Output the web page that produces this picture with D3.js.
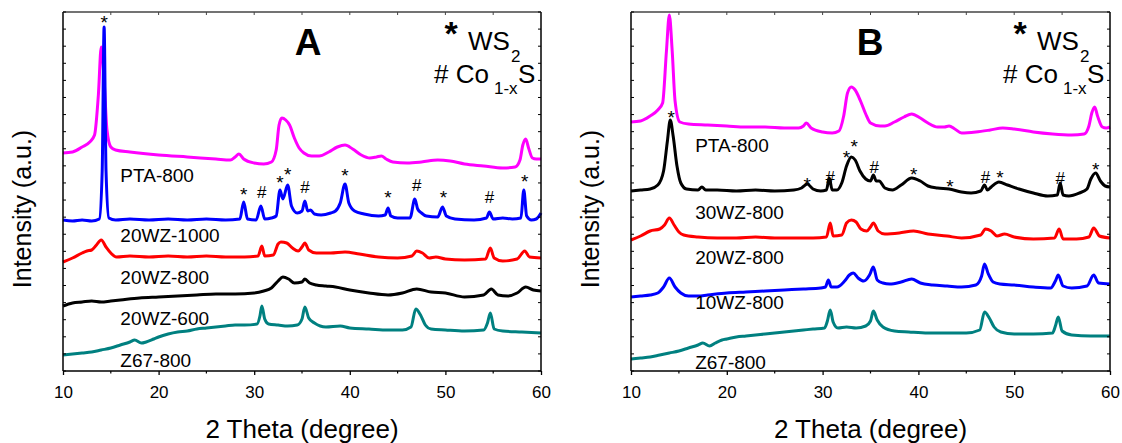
<!DOCTYPE html>
<html>
<head>
<meta charset="utf-8">
<script src="https://d3js.org/d3.v7.min.js"></script>
<style>
  body { margin: 0; background: #fff; }
  svg text { font-family: "Liberation Sans", Arial, sans-serif; fill: #000; }
</style>
</head>
<body>
<svg id="chart" width="1122" height="443"></svg>
<script>
// ---- data: [2theta, intensity (a.u.)] ----
const xTicks = [10, 20, 30, 40, 50, 60];
const xMinor = [15, 25, 35, 45, 55];

const namesA = ["PTA-800", "20WZ-1000", "20WZ-800", "20WZ-600", "Z67-800"];
const namesB = ["PTA-800", "30WZ-800", "20WZ-800", "10WZ-800", "Z67-800"];
const colorsA = ["#ff00ff", "#0000ff", "#ff0000", "#000000", "#008080"];
const colorsB = ["#ff00ff", "#000000", "#ff0000", "#0000ff", "#008080"];
const labelAtA = [196, 136, 94, 53, 11];
const labelAtB = [226, 159, 114, 69, 9];

const ptaA = [[10,218],[11,219],[12,224],[12.8,229],[13.3,236],[13.7,276],[14.0,324],[14.3,291],[14.6,241],[15.0,224],[15.5,221],[17,219],[20,216],[23,214],[26,212],[27.5,211],[28.0,214],[28.4,217],[28.9,212],[30,208],[31,207],[31.8,209],[32.3,221],[32.6,246],[32.9,253],[33.3,251],[33.7,246],[34.2,233],[34.7,223],[35.2,218],[36.0,215],[36.8,215],[37.8,219],[38.7,224],[39.5,226],[40.3,222],[41.2,216],[42.1,213],[42.8,214],[43.3,215],[43.8,212],[44.5,209],[46,208],[47.5,209],[49.2,211],[50.5,210],[52,207],[54,205],[56,203],[57.3,204],[57.8,211],[58.1,226],[58.4,232],[58.7,223],[59.1,213],[59.5,212],[60,212]];
const wz1000A = [[10,151],[11,150],[12,151],[13,150],[13.8,152],[14.1,200],[14.3,344],[14.5,200],[14.8,153],[15.5,151],[17,152],[19,151],[21,152],[23,151],[25,152],[27,151],[28.5,152],[28.9,169],[29.3,152],[30.2,151],[30.7,165],[31.1,152],[31.8,153],[32.3,155],[32.7,181],[33.0,172],[33.5,186],[33.9,165],[34.5,158],[35.0,160],[35.3,170],[35.6,160],[35.9,161],[36.3,157],[37,156],[38,158],[38.5,160],[39.0,168],[39.5,187],[39.9,168],[40.5,160],[41.5,157],[43,155],[43.7,156],[44.0,163],[44.3,155],[45,153],[46.3,153],[46.8,172],[47.1,162],[47.5,158],[48,155],[49.2,154],[49.7,164],[50.1,155],[51,152],[53,151],[54.3,153],[54.6,159],[55,152],[56,153],[57,152],[57.9,153],[58.2,181],[58.5,155],[59,151],[59.5,152],[60,158]];
const wz800A = [[10,109],[11,113],[12,118],[12.5,120],[13,121],[13.5,126],[14.0,131],[14.5,124],[15,118],[15.6,114],[17,115],[19,114],[21,115],[23,114],[25,115],[27,114],[29,114],[30.4,115],[30.8,125],[31.1,115],[32,116],[32.5,127],[32.8,129],[33.4,128],[34.0,123],[34.6,120],[35.0,124],[35.3,128],[35.7,121],[36.5,118],[38,118],[39.5,119],[41,117],[43,114],[45,113],[46.5,115],[47.0,120],[47.6,118],[48.3,113],[49,114],[50,112],[52,111],[54.2,112],[54.7,123],[55.1,113],[56,110],[57.5,112],[58.3,120],[58.8,114],[60,113]];
const wz600A = [[10,65],[11,68],[12,69],[13,70],[14,69],[15,70],[16,71],[18,73],[20,74],[22,75],[24,76],[26,77],[28,77],[30,78],[31,80],[31.8,83],[32.5,90],[33.0,94],[33.6,92],[34.2,88],[35.0,89],[35.3,92],[35.8,88],[36.5,86],[37.5,85],[38.5,84],[40,81],[42,78],[44,76],[45.5,78],[47,82],[48.5,79],[50,78],[52,74],[54,76],[54.8,82],[55.5,76],[56.5,75],[57.5,78],[58.4,84],[59.2,81],[60,80]];
const z67A = [[10,16],[11,17],[12,18],[13,19],[14,21],[15,23],[16,26],[17,29],[17.5,31],[18.2,28],[18.7,29],[19.5,32],[20,34],[21,37],[22,39],[23,40],[24,42],[25,43],[26,44],[27,45],[28,46],[29,46],[30.3,47],[30.6,55],[30.8,65],[31.1,52],[31.5,47],[32.5,46],[33.5,45],[34.5,46],[35.0,52],[35.3,64],[35.7,53],[36.3,48],[37.5,44],[39,45],[40,43],[42,42],[44,41],[45.5,41],[46.4,44],[46.9,62],[47.4,56],[47.9,46],[48.5,42],[50,41],[52,40],[54,41],[54.4,48],[54.7,58],[55.1,42],[56,40],[58,39],[60,38]];

const ptaB = [[10,249],[11,250],[12,255],[12.8,261],[13.3,268],[13.7,320],[14.0,356],[14.3,320],[14.6,270],[15.1,249],[16,247],[18,246],[20,245],[22,244],[24,244],[26,243],[27.5,243],[28.0,245],[28.3,248],[28.8,243],[30,239],[31,238],[31.7,240],[32.2,255],[32.6,278],[33.0,284],[33.4,281],[34,269],[34.5,257],[35,248],[36,245],[36.5,245],[37.5,249],[38.5,254],[39.3,257],[40.2,253],[41,248],[42,244],[42.7,244],[43.2,245],[43.8,242],[44.5,238],[46,239],[47.5,241],[48.8,243],[50,242],[52,239],[54,237],[56,236],[57.3,237],[57.8,245],[58.1,258],[58.4,264],[58.7,255],[59.2,244],[59.6,243],[60,244]];
const wz30B = [[10,180],[11,181],[12,182],[12.8,186],[13.4,200],[13.8,230],[14.1,251],[14.4,235],[14.8,205],[15.2,188],[15.8,182],[17,181],[17.4,184],[17.8,181],[19,181],[21,180],[23,181],[25,180],[27,181],[27.8,183],[28.4,187],[29,182],[29.8,180],[30.4,181],[30.7,193],[31.0,181],[31.5,181],[32.0,188],[32.5,205],[33.0,214],[33.4,211],[33.9,200],[34.5,192],[35.0,190],[35.3,196],[35.6,190],[35.9,190],[36.5,183],[37.3,181],[38.2,186],[39.3,193],[40.2,190],[41,185],[42,183],[43.2,182],[44.5,179],[45.5,178],[46.5,180],[46.9,186],[47.2,181],[47.6,184],[48.4,189],[49.3,186],[50.5,182],[52,178],[53.5,175],[54.5,176],[54.8,188],[55.1,176],[55.7,175],[56.8,178],[57.6,182],[58.0,192],[58.5,198],[59.0,190],[59.5,185],[60,184]];
const wz20B = [[10,131],[11,135],[12,140],[13,142],[13.5,146],[14.0,153],[14.5,146],[15,139],[15.5,136],[17,134],[19,133],[21,133],[23,134],[25,133],[27,133],[29,133],[30.4,134],[30.8,148],[31.1,135],[32,136],[32.5,148],[33.0,151],[33.5,149],[34,142],[34.6,140],[35.0,144],[35.3,148],[35.8,140],[36.5,137],[38,138],[39.5,140],[41,137],[43,135],[44.5,133],[46.5,136],[47.0,142],[47.6,140],[48.2,135],[49,137],[50,134],[52,132],[54.2,133],[54.7,142],[55.1,132],[56.5,132],[57.8,134],[58.3,143],[58.9,135],[60,133]];
const wz10B = [[10,74],[11,75],[12,76],[12.8,78],[13.4,84],[14.0,93],[14.6,84],[15.2,78],[16,75],[17,75],[18,76],[20,78],[22,79],[24,80],[26,81],[28,82],[29.8,83],[30.3,84],[30.6,91],[30.9,84],[31.5,84],[32.3,90],[32.8,96],[33.2,98],[33.7,93],[34.3,90],[34.9,96],[35.3,104],[35.7,91],[36.3,88],[37,87],[38.2,89],[39.3,92],[40.2,88],[41.5,86],[43,85],[44.5,84],[46,86],[46.6,95],[46.9,107],[47.3,97],[47.8,89],[48.5,87],[50,86],[52,84],[53.8,83],[54.3,90],[54.6,96],[55.1,85],[56,83],[57.6,85],[58.3,96],[58.8,88],[60,87]];
const z67B = [[10,12],[11,13],[12,14],[13,16],[14,18],[15,20],[16,23],[17,26],[17.5,28],[18.2,25],[18.8,28],[19.5,31],[20,32],[21,34],[22,35],[23,36],[24,37],[25,38],[26,39],[27,40],[28,41],[29,42],[30.2,43],[30.5,50],[30.8,61],[31.1,49],[31.6,43],[32.5,44],[33.5,43],[34.5,45],[35.0,50],[35.3,60],[35.7,51],[36.3,44],[37.5,40],[39,39],[41,38],[43,38],[45,38],[46.4,41],[46.9,59],[47.4,53],[47.9,44],[48.6,39],[50,37],[52,37],[54,38],[54.3,45],[54.6,54],[55.0,40],[56,36],[58,35],[60,35]];

// phase markers: [2theta, symbol, intensity of glyph centre]
const marksA = [[14.3,"*",353],[28.9,"*",181],[30.8,"#",179],[32.7,"*",193],[33.5,"*",201],[35.3,"#",184],[39.5,"*",200],[44.0,"*",178],[47.0,"#",186],[49.8,"*",178],[54.6,"#",174],[58.3,"*",194]];
const marksB = [[14.2,"*",258],[28.4,"*",191],[30.8,"#",194],[32.5,"*",218],[33.3,"*",229],[35.4,"#",204],[39.5,"*",201],[43.3,"*",189],[47.0,"#",194],[48.5,"*",198],[54.8,"#",193],[58.5,"*",206]];

const panels = [
  { letter: "A", left: 63, right: 541, series: [ptaA, wz1000A, wz800A, wz600A, z67A], names: namesA, colors: colorsA, labelAt: labelAtA, labelX: 16.0, marks: marksA },
  { letter: "B", left: 631, right: 1110, series: [ptaB, wz30B, wz20B, wz10B, z67B], names: namesB, colors: colorsB, labelAt: labelAtB, labelX: 16.7, marks: marksB }
];

const plotTop = 12, plotBottom = 371;
const svg = d3.select("#chart");
const y = d3.scaleLinear().domain([0, 359]).range([plotBottom, plotTop]);
const yTicks = d3.range(0, 360, 359 / 21);

panels.forEach(p => {
  const x = d3.scaleLinear().domain([10, 60]).range([p.left, p.right]);
  const g = svg.append("g");

  // curves
  const line = d3.line().x(d => x(d[0])).y(d => y(d[1])).curve(d3.curveMonotoneX);
  p.series.forEach((s, i) => {
    g.append("path").datum(s).attr("d", line)
      .attr("fill", "none").attr("stroke", p.colors[i])
      .attr("stroke-width", 3).attr("stroke-linejoin", "round");
  });

  // frame
  g.append("line").attr("x1", p.left).attr("x2", p.right).attr("y1", plotTop).attr("y2", plotTop)
    .attr("stroke", "#444").attr("stroke-width", 1.3);
  g.append("line").attr("x1", p.left).attr("x2", p.right).attr("y1", plotBottom).attr("y2", plotBottom)
    .attr("stroke", "#000").attr("stroke-width", 1.5);
  g.append("line").attr("x1", p.left).attr("x2", p.left).attr("y1", plotTop).attr("y2", plotBottom)
    .attr("stroke", "#000").attr("stroke-width", 1.5);
  g.append("line").attr("x1", p.right).attr("x2", p.right).attr("y1", plotTop).attr("y2", plotBottom)
    .attr("stroke", "#000").attr("stroke-width", 1.5);

  // bottom axis
  const ax = g.append("g").attr("transform", `translate(0,${plotBottom})`)
    .call(d3.axisBottom(x).tickValues(xTicks).tickSize(4).tickPadding(11));
  ax.select(".domain").remove();
  ax.selectAll("line").attr("stroke-width", 1.3);
  ax.selectAll("text").style("font-size", "17px").style("font-family", "Liberation Sans, Arial, sans-serif");
  g.selectAll(".minor").data(xMinor).join("line")
    .attr("x1", d => x(d)).attr("x2", d => x(d)).attr("y1", plotBottom).attr("y2", plotBottom + 2.5)
    .attr("stroke", "#000").attr("stroke-width", 1.2);
  // top ticks
  g.selectAll(".topt").data(xTicks.concat(xMinor)).join("line")
    .attr("x1", d => x(d)).attr("x2", d => x(d)).attr("y1", plotTop).attr("y2", plotTop + 3)
    .attr("stroke", "#444").attr("stroke-width", 1);
  // left / right ticks
  g.selectAll(".lt").data(yTicks).join("line")
    .attr("x1", p.left).attr("x2", p.left + 3).attr("y1", d => y(d)).attr("y2", d => y(d))
    .attr("stroke", "#000").attr("stroke-width", 1);
  g.selectAll(".rt").data(yTicks).join("line")
    .attr("x1", p.right - 3).attr("x2", p.right).attr("y1", d => y(d)).attr("y2", d => y(d))
    .attr("stroke", "#000").attr("stroke-width", 1);

  // axis titles
  g.append("text").attr("x", (p.left + p.right) / 2).attr("y", 438)
    .attr("text-anchor", "middle").style("font-size", "26px").text("2 Theta (degree)");
  g.append("text").attr("transform", `translate(${p.left - 32},209) rotate(-90)`)
    .attr("text-anchor", "middle").style("font-size", "25px").text("Intensity (a.u.)");

  // sample labels
  p.names.forEach((n, i) => {
    g.append("text").attr("x", x(p.labelX)).attr("y", y(p.labelAt[i])).attr("dy", "0.36em")
      .style("font-size", "19px").text(n);
  });

  // peak markers
  g.selectAll(".mk").data(p.marks).join("text")
    .attr("x", d => x(d[0])).attr("y", d => y(d[2]) + (d[1] === "*" ? 11 : 6))
    .attr("text-anchor", "middle").style("font-size", d => d[1] === "*" ? "19px" : "17px").text(d => d[1]);

  // panel letter
  g.append("text").attr("x", p.left + (p.letter === "A" ? 245 : 239)).attr("y", 55)
    .attr("text-anchor", "middle").style("font-size", "37px").style("font-weight", "bold").text(p.letter);

  // legend
  const R = p.right;
  g.append("text").attr("x", R - 90).attr("y", 45).attr("text-anchor", "middle")
    .style("font-size", "34px").style("font-weight", "bold").text("*");
  g.append("text").attr("x", R - 73).attr("y", 50).style("font-size", "26px").text("WS");
  g.append("text").attr("x", R - 30).attr("y", 62).style("font-size", "17px").text("2");
  g.append("text").attr("x", R - 107).attr("y", 83).style("font-size", "26px").text("# Co");
  g.append("text").attr("x", R - 47).attr("y", 94).style("font-size", "17px").text("1-x");
  g.append("text").attr("x", R - 23).attr("y", 83).style("font-size", "26px").text("S");
});
</script>
</body>
</html>
